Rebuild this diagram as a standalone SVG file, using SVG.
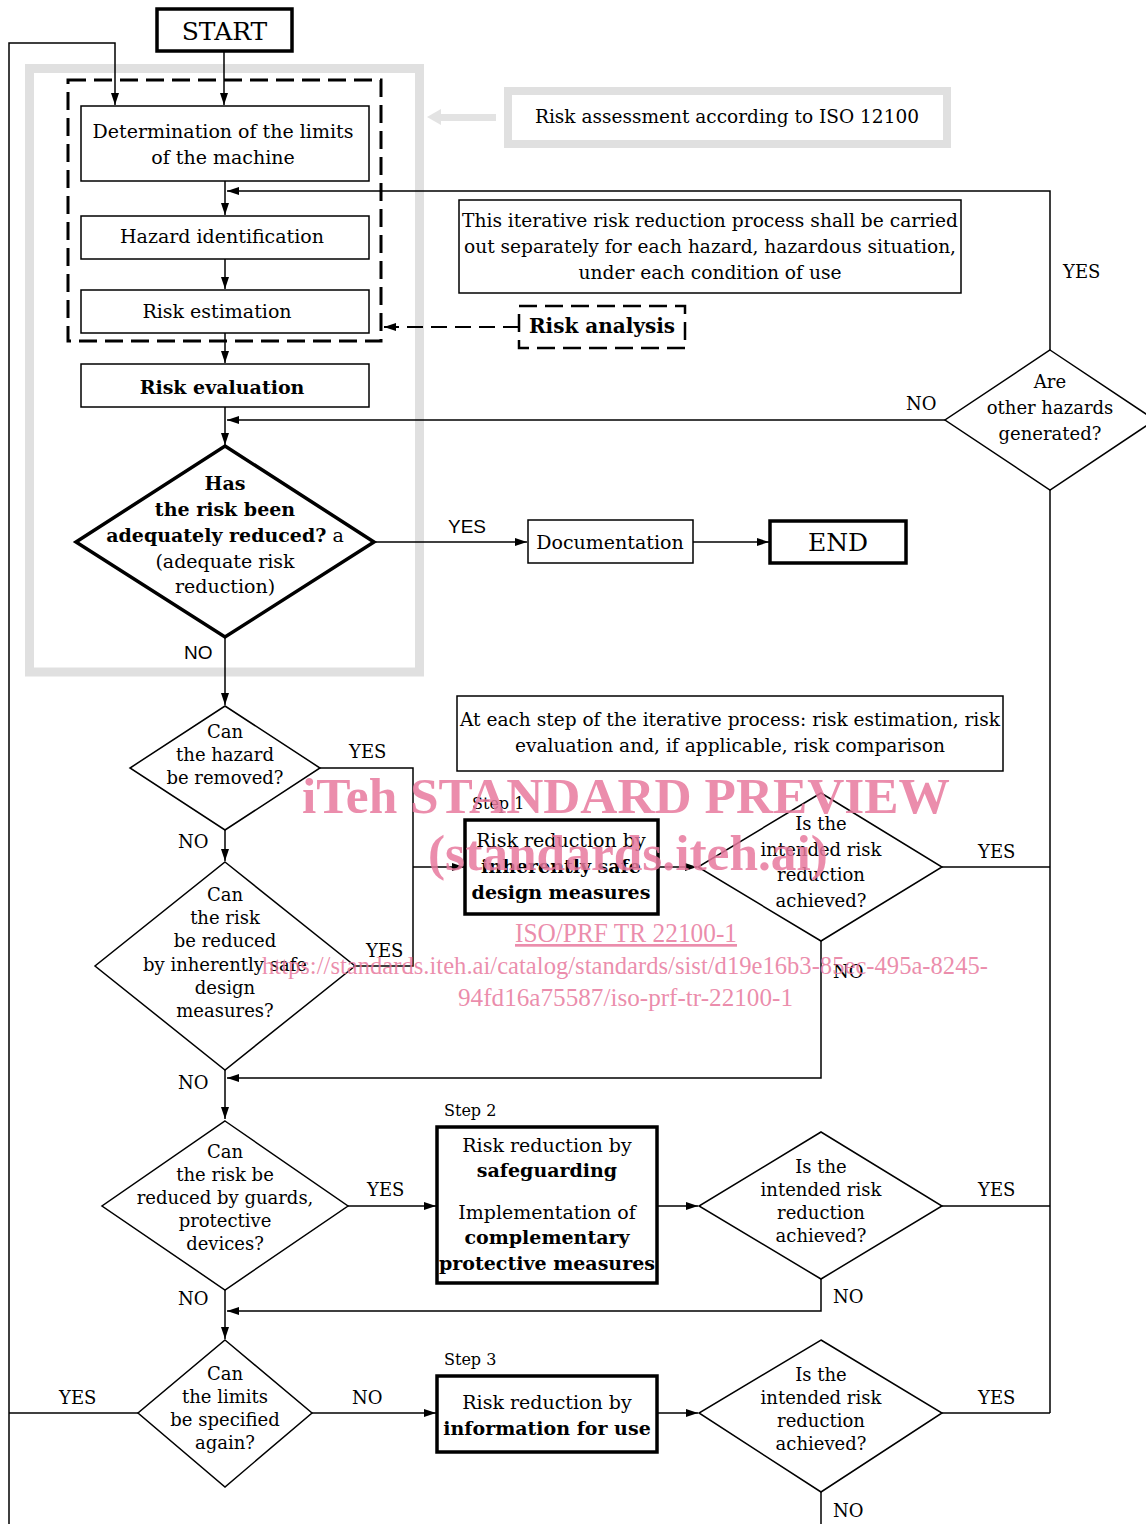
<svg xmlns="http://www.w3.org/2000/svg" width="1146" height="1524" viewBox="0 0 1146 1524">
<defs>
<marker id="ah" markerWidth="13" markerHeight="9" refX="12" refY="4" orient="auto" markerUnits="userSpaceOnUse">
<path d="M0,0 L12,4 L0,8 z" fill="#000"/>
</marker>
<style>
.t{font-family:"DejaVu Serif","Liberation Serif",serif;font-size:19px;fill:#000;text-anchor:middle}
.d{font-family:"DejaVu Serif","Liberation Serif",serif;font-size:18px;fill:#000;text-anchor:middle}
.n{font-family:"DejaVu Serif","Liberation Serif",serif;font-size:18.5px;fill:#000;text-anchor:middle}
.b{font-weight:bold}
.s{font-family:"Liberation Sans",Arial,sans-serif;font-size:19px;fill:#000}
.l{font-family:"DejaVu Serif","Liberation Serif",serif;font-size:18px;fill:#000}
.box{fill:#fff;stroke:#000;stroke-width:1.5}
.bold{fill:#fff;stroke:#000;stroke-width:3.5}
.dm{fill:#fff;stroke:#000;stroke-width:1.5}
.c{fill:none;stroke:#000;stroke-width:1.5}
.a{marker-end:url(#ah)}
.wm{font-family:"Liberation Serif","Times New Roman",serif;fill:#e8799d;fill-opacity:0.85}
</style>
</defs>
<rect width="1146" height="1524" fill="#fff"/>

<g id="assessment-frame">
<rect x="29.5" y="68.5" width="390" height="603.5" fill="none" stroke="#e0e0e0" stroke-width="9"/>
<rect x="68" y="80" width="313" height="261" fill="none" stroke="#000" stroke-width="3" stroke-dasharray="18 8"/>
</g>

<g id="connectors">
<line class="c a" x1="224" y1="51" x2="224" y2="105"/>
<polyline class="c a" points="9,1524 9,43 115,43 115,105"/>
<line class="c a" x1="225" y1="181" x2="225" y2="215"/>
<polyline class="c a" points="1050,350 1050,191 227,191"/>
<line class="c a" x1="225" y1="259" x2="225" y2="289"/>
<line class="c a" x1="225" y1="333" x2="225" y2="363"/>
<line x1="519" y1="327" x2="384" y2="327" stroke="#000" stroke-width="2" stroke-dasharray="16 8" marker-end="url(#ah)"/>
<line class="c a" x1="225" y1="407" x2="225" y2="445"/>
<line class="c a" x1="945" y1="420" x2="227" y2="420"/>
<line class="c a" x1="374" y1="542" x2="527" y2="542"/>
<line class="c a" x1="693" y1="542" x2="769" y2="542"/>
<line class="c a" x1="225" y1="637" x2="225" y2="705"/>
<line class="c a" x1="225" y1="830" x2="225" y2="861"/>
<polyline class="c" points="320,768 413,768 413,966 355,966"/>
<line class="c a" x1="413" y1="867" x2="464" y2="867"/>
<line class="c a" x1="658" y1="867" x2="697" y2="867"/>
<line class="c" x1="942" y1="867" x2="1050" y2="867"/>
<line class="c" x1="1050" y1="490" x2="1050" y2="1413"/>
<polyline class="c a" points="821,941 821,1078 227,1078"/>
<line class="c a" x1="225" y1="1070" x2="225" y2="1119"/>
<line class="c a" x1="348" y1="1206" x2="436" y2="1206"/>
<line class="c a" x1="657" y1="1206" x2="698" y2="1206"/>
<line class="c" x1="942" y1="1206" x2="1050" y2="1206"/>
<polyline class="c a" points="821,1279 821,1311 227,1311"/>
<line class="c a" x1="225" y1="1290" x2="225" y2="1339"/>
<line class="c a" x1="312" y1="1413" x2="436" y2="1413"/>
<line class="c" x1="138" y1="1413" x2="9" y2="1413"/>
<line class="c a" x1="657" y1="1413" x2="698" y2="1413"/>
<line class="c" x1="942" y1="1413" x2="1050" y2="1413"/>
<line class="c" x1="821" y1="1492" x2="821" y2="1524"/>
</g>

<g id="labels">
<text class="l" x="1063" y="278">YES</text>
<text class="l" x="906" y="410">NO</text>
<text class="s" x="448" y="533">YES</text>
<text class="s" x="184" y="659">NO</text>
<text class="l" x="349" y="758">YES</text>
<text class="l" x="178" y="848">NO</text>
<text class="l" x="366" y="957">YES</text>
<text class="l" x="978" y="858">YES</text>
<text class="l" x="833" y="978">NO</text>
<text class="l" x="178" y="1089">NO</text>
<text class="l" x="367" y="1196">YES</text>
<text class="l" x="978" y="1196">YES</text>
<text class="l" x="833" y="1303">NO</text>
<text class="l" x="178" y="1305">NO</text>
<text class="l" x="59" y="1404">YES</text>
<text class="l" x="352" y="1404">NO</text>
<text class="l" x="978" y="1404">YES</text>
<text class="l" x="833" y="1517">NO</text>
</g>

<g id="start">
<rect class="bold" x="157" y="9" width="135" height="42" stroke-width="3"/>
<text class="t" x="224.5" y="40" style="font-size:25px">START</text>
</g>

<g id="risk-assessment-note">
<polygon points="427,117 441,109 441,114 496,114 496,121 441,121 441,125" fill="#e3e3e3"/>
<rect x="508" y="91" width="439" height="53" fill="#fff" stroke="#e0e0e0" stroke-width="8"/>
<text class="t" x="727" y="123" textLength="384" lengthAdjust="spacingAndGlyphs">Risk assessment according to ISO 12100</text>
</g>

<g id="determination">
<rect class="box" x="81" y="106" width="288" height="75"/>
<text class="t" x="223" y="138">Determination of the limits</text>
<text class="t" x="223" y="164">of the machine</text>
</g>

<g id="hazard-identification">
<rect class="box" x="81" y="216" width="288" height="43"/>
<text class="t" x="222" y="243">Hazard identification</text>
</g>

<g id="risk-estimation">
<rect class="box" x="81" y="290" width="288" height="43"/>
<text class="t" x="217" y="318">Risk estimation</text>
</g>

<g id="iterative-note">
<rect class="box" x="459" y="200" width="502" height="93"/>
<text class="n" x="710" y="227" textLength="496" lengthAdjust="spacingAndGlyphs">This iterative risk reduction process shall be carried</text>
<text class="n" x="710" y="253" textLength="492" lengthAdjust="spacingAndGlyphs">out separately for each hazard, hazardous situation,</text>
<text class="n" x="710" y="279" textLength="263" lengthAdjust="spacingAndGlyphs">under each condition of use</text>
</g>

<g id="risk-analysis">
<rect x="519" y="306" width="166" height="42" fill="#fff" stroke="#000" stroke-width="2.5" stroke-dasharray="18 8"/>
<text class="t b" x="602" y="333" style="font-size:20px">Risk analysis</text>
</g>

<g id="risk-evaluation">
<rect class="box" x="81" y="364" width="288" height="43"/>
<text class="t b" x="222" y="394">Risk evaluation</text>
</g>

<g id="are-other-hazards">
<polygon class="dm" points="1050,350 1155,420 1050,490 945,420"/>
<text class="d" x="1050" y="388">Are</text>
<text class="d" x="1050" y="414">other hazards</text>
<text class="d" x="1050" y="440">generated?</text>
</g>

<g id="adequately-reduced">
<polygon points="225,446 374,542 225,637 76,542" fill="#fff" stroke="#000" stroke-width="3.5"/>
<text class="t b" x="225" y="490">Has</text>
<text class="t b" x="225" y="516">the risk been</text>
<text class="t" x="225" y="542"><tspan class="b">adequately reduced?</tspan> a</text>
<text class="t" x="225" y="568">(adequate risk</text>
<text class="t" x="225" y="593">reduction)</text>
</g>

<g id="documentation">
<rect class="box" x="528" y="520" width="165" height="43"/>
<text class="t" x="610" y="549">Documentation</text>
</g>

<g id="end">
<rect class="bold" x="770" y="521" width="136" height="42" stroke-width="3"/>
<text class="t" x="838" y="551" style="font-size:25px">END</text>
</g>

<g id="iterative-step-note">
<rect class="box" x="457" y="696" width="546" height="75"/>
<text class="n" x="730" y="726" textLength="540" lengthAdjust="spacingAndGlyphs">At each step of the iterative process: risk estimation, risk</text>
<text class="n" x="730" y="752" textLength="430" lengthAdjust="spacingAndGlyphs">evaluation and, if applicable, risk comparison</text>
</g>

<g id="hazard-removed">
<polygon class="dm" points="225,706 320,768 225,830 130,768"/>
<text class="d" x="225" y="738">Can</text>
<text class="d" x="225" y="761">the hazard</text>
<text class="d" x="225" y="784">be removed?</text>
</g>

<g id="inherently-safe-question">
<polygon class="dm" points="225,862 355,966 225,1070 95,966"/>
<text class="d" x="225" y="901">Can</text>
<text class="d" x="225" y="924">the risk</text>
<text class="d" x="225" y="947">be reduced</text>
<text class="d" x="225" y="971">by inherently safe</text>
<text class="d" x="225" y="994">design</text>
<text class="d" x="225" y="1017">measures?</text>
</g>

<g id="step1">
<text class="l" x="472" y="809" style="font-size:16px">Step 1</text>
<rect class="bold" x="465" y="820" width="193" height="94" stroke-width="3"/>
<text class="t" x="561" y="847">Risk reduction by</text>
<text class="t b" x="561" y="873">inherently safe</text>
<text class="t b" x="561" y="899">design measures</text>
</g>

<g id="check1">
<polygon class="dm" points="821,793 942,867 821,941 698,867"/>
<text class="d" x="821" y="830">Is the</text>
<text class="d" x="821" y="856">intended risk</text>
<text class="d" x="821" y="881">reduction</text>
<text class="d" x="821" y="907">achieved?</text>
</g>

<g id="guards-question">
<polygon class="dm" points="225,1121 348,1206 225,1290 102,1206"/>
<text class="d" x="225" y="1158">Can</text>
<text class="d" x="225" y="1181">the risk be</text>
<text class="d" x="225" y="1204">reduced by guards,</text>
<text class="d" x="225" y="1227">protective</text>
<text class="d" x="225" y="1250">devices?</text>
</g>

<g id="step2">
<text class="l" x="444" y="1116" style="font-size:16px">Step 2</text>
<rect class="bold" x="437" y="1127" width="220" height="156" stroke-width="3"/>
<text class="t" x="547" y="1152">Risk reduction by</text>
<text class="t b" x="547" y="1177">safeguarding</text>
<text class="t" x="547" y="1219">Implementation of</text>
<text class="t b" x="547" y="1244">complementary</text>
<text class="t b" x="547" y="1270">protective measures</text>
</g>

<g id="check2">
<polygon class="dm" points="821,1132 942,1206 821,1279 699,1206"/>
<text class="d" x="821" y="1173">Is the</text>
<text class="d" x="821" y="1196">intended risk</text>
<text class="d" x="821" y="1219">reduction</text>
<text class="d" x="821" y="1242">achieved?</text>
</g>

<g id="limits-question">
<polygon class="dm" points="225,1340 312,1413 225,1487 138,1413"/>
<text class="d" x="225" y="1380">Can</text>
<text class="d" x="225" y="1403">the limits</text>
<text class="d" x="225" y="1426">be specified</text>
<text class="d" x="225" y="1449">again?</text>
</g>

<g id="step3">
<text class="l" x="444" y="1365" style="font-size:16px">Step 3</text>
<rect class="bold" x="437" y="1376" width="220" height="76" stroke-width="3"/>
<text class="t" x="547" y="1409">Risk reduction by</text>
<text class="t b" x="547" y="1435">information for use</text>
</g>

<g id="check3">
<polygon class="dm" points="821,1340 942,1413 821,1492 699,1413"/>
<text class="d" x="821" y="1381">Is the</text>
<text class="d" x="821" y="1404">intended risk</text>
<text class="d" x="821" y="1427">reduction</text>
<text class="d" x="821" y="1450">achieved?</text>
</g>

<g id="watermark">
<text class="wm" x="302" y="813" font-size="50" font-weight="bold" textLength="648" lengthAdjust="spacingAndGlyphs">iTeh STANDARD PREVIEW</text>
<text class="wm" x="428" y="870" font-size="50" font-weight="bold" textLength="400" lengthAdjust="spacingAndGlyphs">(standards.iteh.ai)</text>
<text class="wm" x="515" y="942" font-size="27" text-decoration="underline" textLength="222" lengthAdjust="spacingAndGlyphs">ISO/PRF TR 22100-1</text>
<text class="wm" x="262" y="974" font-size="25" textLength="726" lengthAdjust="spacingAndGlyphs">https://standards.iteh.ai/catalog/standards/sist/d19e16b3-85ec-495a-8245-</text>
<text class="wm" x="458" y="1006" font-size="25" textLength="335" lengthAdjust="spacingAndGlyphs">94fd16a75587/iso-prf-tr-22100-1</text>
</g>
</svg>
